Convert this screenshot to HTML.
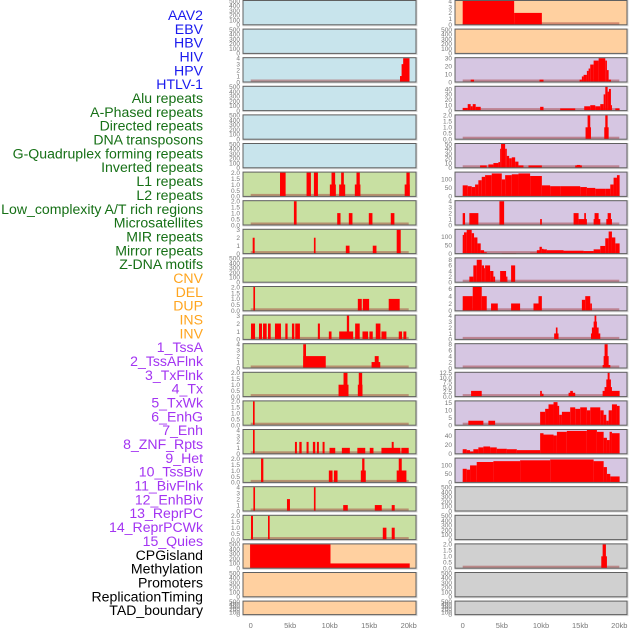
<!DOCTYPE html>
<html><head><meta charset="utf-8">
<style>
html,body{margin:0;padding:0;background:#fff;}
svg{display:block;font-family:"Liberation Sans",sans-serif;}
</style></head>
<body>
<svg id="chart" width="630" height="630" viewBox="0 0 630 630">
<g id="labels"></g>
<g id="panels"></g>
<g id="xaxes"></g>
</svg>
<script>
// ---- track labels ----
const trackLabels = ["AAV2","EBV","HBV","HIV","HPV","HTLV-1","Alu repeats","A-Phased repeats","Directed repeats","DNA transposons","G-Quadruplex forming repeats","Inverted repeats","L1 repeats","L2 repeats","Low_complexity A/T rich regions","Microsatellites","MIR repeats","Mirror repeats","Z-DNA motifs","CNV","DEL","DUP","INS","INV","1_TssA","2_TssAFlnk","3_TxFlnk","4_Tx","5_TxWk","6_EnhG","7_Enh","8_ZNF_Rpts","9_Het","10_TssBiv","11_BivFlnk","12_EnhBiv","13_ReprPC","14_ReprPCWk","15_Quies","CPGisland","Methylation","Promoters","ReplicationTiming","TAD_boundary"];
const labelGroups = [6,13,5,15,5];
const groupColors = ["#1a1aee","#167016","#ffa51f","#a334f2","#000000"];

// ---- x axis ----
const xTickKb = [0,5,10,15,20];
const xTickLabels = ["0","5kb","10kb","15kb","20kb"];

// ---- tick label sets ----
const tEmpty = ["0","100","200","300","400","500"]; const vEmpty=[0,100,200,300,400,500];
const t04 = ["0","1","2","3","4"]; const v04=[0,1,2,3,4];
const t03 = ["0","1","2","3"]; const v03=[0,1,2,3];
const t02 = ["0.0","0.5","1.0","1.5","2.0"]; const v02=[0,0.5,1,1.5,2];
const t30 = ["0","10","20","30"]; const v30=[0,10,20,30];
const t40 = ["0","10","20","30","40"]; const v40=[0,10,20,30,40];
const t50 = ["0","10","20","30","40","50"]; const v50=[0,10,20,30,40,50];
const t100 = ["0","50","100"]; const v100=[0,50,100];
const t8 = ["0","2","4","6","8"]; const v8=[0,2,4,6,8];
const t6 = ["0","2","4","6"]; const v6=[0,2,4,6];
const t125 = ["0.0","2.5","5.0","7.5","10.0","12.5"]; const v125=[0,2.5,5,7.5,10,12.5];
const t15 = ["0","5","10","15"]; const v15=[0,5,10,15];
const t40b = ["0","20","40"]; const v40b=[0,20,40];

// ---- segment data [startKb, endKb, value] ----
const segL2 = [[18.9,20.1,1],[19.1,20.1,3],[19.3,20.1,4]];
const segL6 = [[3.71,4.42,2],[7.07,7.62,2],[8.0,8.51,2],[10.02,10.78,1],[10.23,10.69,2],[11.2,11.96,1],[11.45,11.79,2],[13.18,13.89,1],[13.39,13.81,2],[19.49,20.13,1],[19.71,20.13,2]];
const segL7 = [[5.47,5.81,2],[10.95,11.37,1],[12.42,12.88,1],[14.95,15.41,1],[17.73,18.19,1]];
const segL8 = [[0.25,0.5,2],[8.0,8.21,2],[12.04,12.51,1],[15.45,15.92,1],[18.48,18.99,3]];
const segL10 = [[0.34,0.55,2],[13.56,14.06,1],[14.19,14.99,1],[17.47,18.86,1]];
const segL11 = [[0.04,0.55,2],[1.05,1.43,2],[1.56,2.02,2],[2.19,2.53,2],[3.07,3.83,2],[4.38,4.67,2],[5.22,5.52,2],[5.64,6.23,2],[8.5,8.76,2],[9.89,10.23,1],[11.2,12.97,1],[12.17,12.46,3],[13.22,13.8,2],[14.15,14.86,1],[15.03,15.45,1],[15.83,16.42,2],[16.55,17.18,1],[18.74,19.16,1],[19.33,19.7,1]];
const segL12 = [[6.65,9.5,2],[6.65,7.0,4],[15.3,16.4,1],[15.7,16.2,2]];
const segL13 = [[11.12,12.38,1],[11.75,12.25,2],[13.56,14.15,1],[13.68,14.11,2]];
const segL14 = [[0.29,0.5,2]];
const segL15 = [[0.29,0.5,4],[5.6,5.85,2],[6.15,6.45,2],[7.07,7.33,2],[7.87,8.17,2],[8.38,8.63,2],[9.1,9.35,2],[9.98,10.7,1],[11.54,12.55,1],[13.5,14.5,1],[15.07,15.54,1],[16.55,18.95,1],[17.85,18.1,2],[19.07,20.0,1]];
const segL16 = [[1.31,1.6,2],[9.89,10.36,1],[10.53,10.99,1],[13.94,14.57,1],[14.11,14.4,2],[18.48,19.71,1],[18.74,19.12,2]];
const segL17 = [[0.34,0.55,4],[4.59,4.97,2],[8.0,8.21,4],[11.71,12.29,1],[15.71,16.59,1],[17.85,18.23,1]];
const segL18 = [[0.04,0.29,2],[2.19,2.4,2],[16.72,17.18,1],[17.85,18.23,1]];
const segL19 = [[-0.08,10.1,500],[10.1,20.13,100]];

const segR0 = [[0,6.57,4],[6.57,10.11,2]];
const segR2 = [[1.02,1.45,3],[9.81,10.32,3],[14.93,15.22,3],[15.22,15.44,7],[15.44,15.86,9],[15.86,16.08,14],[16.08,16.29,17],[16.29,16.72,22],[16.72,17.36,27],[17.36,18.21,32],[18.21,18.42,27],[18.42,18.64,15],[18.64,18.93,3]];
const segR3 = [[0,0.64,5],[0.64,1.02,12],[1.02,1.28,8],[1.28,1.66,12],[1.66,2.3,7],[9.89,10.32,7],[12.45,14.37,4],[15.52,16.29,8],[16.29,16.93,10],[16.93,17.57,8],[17.57,18.0,12],[18.0,18.21,30],[18.21,18.51,45],[18.51,18.68,35],[18.68,18.93,40],[18.93,19.06,10],[19.49,20.04,4]];
const segR4 = [[15.69,16.38,1],[15.95,16.29,2],[18.08,18.64,1],[18.21,18.51,2]];
const segR5 = [[2.22,3.07,5],[3.28,3.92,7],[3.92,4.56,10],[4.56,4.78,12],[4.78,4.9,40],[4.9,5.42,50],[5.42,5.63,40],[5.63,5.93,25],[5.93,6.27,20],[6.27,6.7,22],[6.7,7.12,13],[7.12,7.76,5],[8.4,10.11,5],[14.37,15.22,5],[14.58,15.01,6]];
const segR6 = [[0,0.64,65],[0.64,1.15,60],[1.15,1.58,55],[1.58,2.0,70],[2.0,2.43,95],[2.43,2.86,115],[2.86,3.71,125],[3.71,4.99,135],[4.99,5.42,100],[5.42,6.27,125],[6.27,7.12,130],[7.12,8.61,135],[8.61,10.11,120],[10.11,11.17,65],[11.17,12.45,60],[12.45,15.01,60],[15.01,15.86,55],[15.86,16.93,50],[16.93,18.21,45],[18.21,18.85,45],[18.85,19.27,70],[19.27,19.7,110],[19.7,20.04,125]];
const segR7 = [[0,0.3,2],[0.85,2.0,2],[4.69,5.29,4],[9.89,10.11,1],[14.16,14.8,2],[14.8,15.86,1],[15.52,15.74,2],[16.72,17.57,1],[16.84,17.36,2],[18.34,19.06,1],[18.51,18.93,2]];
const segR8 = [[0,0.17,110],[0.17,0.51,125],[0.51,1.15,140],[1.15,1.45,120],[1.45,1.88,95],[1.88,2.3,60],[2.3,2.73,20],[2.73,3.07,8],[4.99,6.82,3],[8.61,9.47,5],[9.47,9.81,20],[9.81,10.11,40],[10.11,10.32,28],[10.32,10.75,25],[10.75,12.88,20],[12.88,15.44,17],[15.44,16.72,15],[16.72,17.57,25],[17.57,18.21,45],[18.21,18.64,90],[18.64,19.06,130],[19.06,19.49,95],[19.49,20.04,60]];
const segR9 = [[0.85,1.36,2],[1.36,1.79,6],[1.79,2.43,8],[2.43,2.73,6],[2.73,2.86,5],[2.86,3.5,6],[3.5,3.92,4],[3.92,4.14,2],[4.78,5.54,4],[5.54,5.71,2],[6.18,6.7,6]];
const segR10 = [[0,1.28,4],[1.28,2.43,6.5],[2.43,3.07,4],[3.62,4.48,2],[6.18,7.33,2],[9.04,9.68,2],[9.68,10.11,4],[15.22,15.65,3],[15.65,16.29,4],[16.29,16.5,2]];
const segR11 = [[11.68,12.24,1],[11.9,12.11,2],[16.38,17.57,1],[16.5,17.36,2],[16.72,17.14,3],[16.84,17.06,4]];
const segR12 = [[17.87,18.85,1],[18.0,18.64,4],[18.12,18.51,8]];
const segR13 = [[1.07,2.43,3],[9.89,10.11,3],[10.11,10.32,1.5],[13.52,14.37,2],[13.73,14.07,3],[17.87,20.04,3],[18.12,19.06,5],[18.34,18.93,9],[18.51,18.76,13]];
const segR14 = [[0.72,2.64,3],[3.28,4.14,3],[9.89,10.53,9],[10.53,10.96,11],[10.96,11.6,14],[11.6,12.11,15.5],[12.11,12.32,13],[12.32,12.67,7],[12.67,13.73,9],[13.73,14.37,12],[14.37,15.01,11],[15.01,15.86,12],[15.86,16.29,10],[16.29,17.57,12],[17.57,18.0,10],[18.0,18.34,7],[18.34,18.64,3],[18.64,19.06,10],[19.06,19.7,14],[19.7,20.04,13]];
const segR15 = [[0,0.51,10],[0.51,0.94,8],[0.94,1.36,5],[1.36,2.0,10],[2.0,2.64,14],[2.64,3.5,16],[3.5,4.35,14],[4.35,5.63,11],[5.63,6.91,10],[6.91,9.89,8],[9.89,10.32,45],[10.32,11.6,42],[11.6,12.03,40],[12.03,13.3,48],[13.3,15.86,50],[15.86,17.14,52],[17.14,18.0,48],[18.0,18.42,35],[18.42,18.76,30],[18.76,19.06,48],[19.06,20.04,45]];
const segR16 = [[0,0.51,80],[0.51,0.94,75],[0.94,1.79,100],[1.79,3.92,120],[3.92,7.33,125],[7.33,11.17,130],[11.17,16.72,135],[16.72,18.0,125],[18.0,18.42,90],[18.42,18.85,50],[18.85,20.04,35]];
const segR19 = [[17.7,18.42,1],[17.87,18.29,2]];

// ---- panel specs (no positions) ----
const BLUE="#c8e4ec",GREEN="#c8e0a2",ORANGE="#ffd0a0",PURPLE="#d6c6e2",GREY="#d0d0d0";
const leftPanels = [
 [BLUE,tEmpty,vEmpty,500,null],[BLUE,tEmpty,vEmpty,500,null],[BLUE,t04,v04,4,segL2],[BLUE,tEmpty,vEmpty,500,null],[BLUE,tEmpty,vEmpty,500,null],[BLUE,tEmpty,vEmpty,500,null],
 [GREEN,t02,v02,2,segL6],[GREEN,t02,v02,2,segL7],[GREEN,t03,v03,3,segL8],[GREEN,tEmpty,vEmpty,500,null],[GREEN,t02,v02,2,segL10],[GREEN,t03,v03,3,segL11],[GREEN,t04,v04,4,segL12],[GREEN,t02,v02,2,segL13],[GREEN,t02,v02,2,segL14],[GREEN,t04,v04,4,segL15],[GREEN,t02,v02,2,segL16],[GREEN,t04,v04,4,segL17],[GREEN,t02,v02,2,segL18],
 [ORANGE,tEmpty,vEmpty,500,segL19],[ORANGE,tEmpty,vEmpty,500,null],[ORANGE,tEmpty,vEmpty,500,null]
];
const rightPanels = [
 [ORANGE,t04,v04,4,segR0],[ORANGE,tEmpty,vEmpty,500,null],
 [PURPLE,t30,v30,30,segR2],[PURPLE,t40,v40,44,segR3],[PURPLE,t02,v02,2,segR4],[PURPLE,t50,v50,50,segR5],[PURPLE,t100,v100,140,segR6],[PURPLE,t04,v04,4,segR7],[PURPLE,t100,v100,140,segR8],[PURPLE,t8,v8,8.5,segR9],[PURPLE,t6,v6,6.5,segR10],[PURPLE,t04,v04,4,segR11],[PURPLE,t8,v8,8,segR12],[PURPLE,t125,v125,12.5,segR13],[PURPLE,t15,v15,16,segR14],[PURPLE,t40b,v40b,52,segR15],[PURPLE,t100,v100,140,segR16],
 [GREY,tEmpty,vEmpty,500,null],[GREY,tEmpty,vEmpty,500,null],[GREY,t02,v02,2,segR19],[GREY,tEmpty,vEmpty,500,null],[GREY,tEmpty,vEmpty,500,null]
];

const NS="http://www.w3.org/2000/svg";
function mk(tag,attrs,parent){const e=document.createElementNS(NS,tag);for(const k in attrs)e.setAttribute(k,attrs[k]);parent.appendChild(e);return e;}

// labels
const lg=document.getElementById('labels');
let gi=0,cnt=0;
trackLabels.forEach((t,i)=>{
  while(cnt>=labelGroups[gi]){gi++;cnt=0;}
  cnt++;
  const el=mk('text',{x:203,y:20+i*13.84,'text-anchor':'end','font-size':'14.1',fill:groupColors[gi]},lg);
  
  
  el.textContent=t;
});

const pg=document.getElementById('panels');
const cols=[{x0:243,x1:416,z:250.7,k:7.9,list:leftPanels,name:'left'},{x0:455,x1:627,z:462.7,k:7.83,list:rightPanels,name:'right'}];
cols.forEach(c=>{
  const xs=kb=>c.z+kb*c.k;
  c.list.forEach((p,r)=>{
    const top=r*28.6+0.5, h=(r===21)?13.5:24.3, bot=top+h;
    const [bg,tl,tv,ymax,segs]=p;
    const g=mk('g',{},pg);
    
    
    mk('rect',{x:c.x0-0.5,y:top-0.5,width:c.x1-c.x0+2,height:h+2,fill:'#d8d8d8'},g);
    mk('rect',{x:c.x0,y:top,width:c.x1-c.x0,height:h,fill:bg},g);
    const ys=v=>bot-Math.min(v,ymax)/ymax*(h-0.5);
    if(segs){
      const bl=mk('rect',{x:xs(0),y:bot-2.5,width:xs(20)-xs(0),height:2.5,fill:'#a03030','fill-opacity':0.45},g);
      
      
      segs.forEach(s=>{
        const y=ys(s[2]);
        const b=mk('rect',{x:xs(s[0]),y:y,width:Math.max(0.8,xs(s[1])-xs(s[0])),height:bot-y,fill:'#ff0000'},g);
        
        
      });
    }
    mk('rect',{x:c.x0,y:top,width:c.x1-c.x0,height:h,fill:'none',stroke:'#606060','stroke-width':1},g);
    tl.forEach((t,i)=>{
      const y=ys(tv[i]);
      const te=mk('text',{x:c.x0-3,y:y+2.3,'text-anchor':'end','font-size':'6.5',fill:'#777'},g);
      
      
      te.textContent=t;
    });
  });
  const xg=document.getElementById('xaxes');
  xTickKb.forEach((kb,i)=>{
    const te=mk('text',{x:xs(kb),y:628,'text-anchor':'middle','font-size':'7.5',fill:'#777'},xg);
    
    
    te.textContent=xTickLabels[i];
  });
});
</script>
</body></html>
